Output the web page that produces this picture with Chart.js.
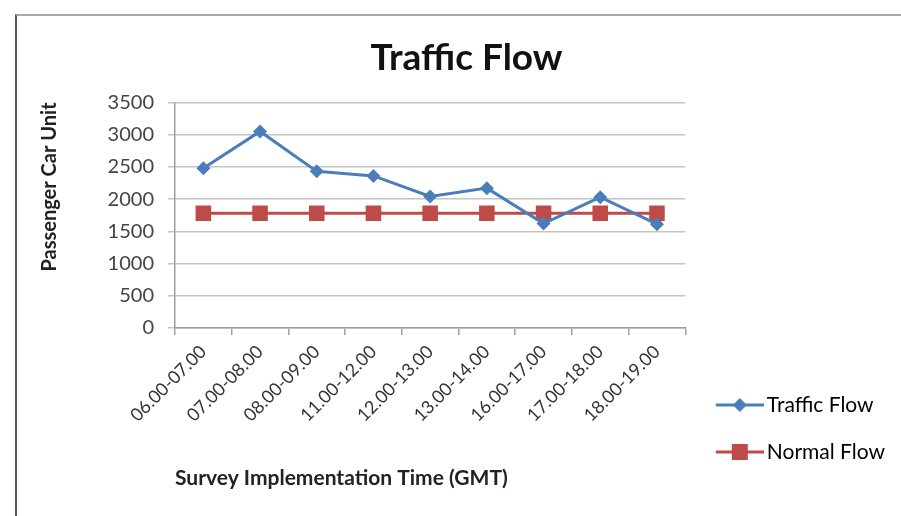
<!DOCTYPE html>
<html>
<head>
<meta charset="utf-8">
<script src="https://cdn.jsdelivr.net/npm/chart.js@4.4.1/dist/chart.umd.min.js"></script>
<style>
  html, body { margin: 0; padding: 0; background: #fff; overflow: hidden; }
  #wrap { position: relative; width: 901px; height: 516px; }
  #frame {
    position: absolute; left: 15px; top: 14px; width: 1000px; height: 600px;
    border-top: 2px solid #a8a8a8; border-left: 2px solid #5a5a5a;
  }
  #flow { position: absolute; left: 0; top: 0; }
</style>
</head>
<body>
<div id="wrap">
  <div id="frame"></div>
  <canvas id="flow" width="901" height="516"></canvas>
</div>
<script>
(function () {
    "use strict";

    var timeSlots = ["06.00-07.00", "07.00-08.00", "08.00-09.00", "11.00-12.00", "12.00-13.00",
                     "13.00-14.00", "16.00-17.00", "17.00-18.00", "18.00-19.00"];
    var trafficFlow = [2480, 3050, 2430, 2360, 2040, 2170, 1620, 2030, 1610];
    var normalFlow = [1780, 1780, 1780, 1780, 1780, 1780, 1780, 1780, 1780];
    var yTicks = [0, 500, 1000, 1500, 2000, 2500, 3000, 3500];

    var blue = "#4a7ebb";
    var red = "#be4b48";
    var font = "Lato, 'Open Sans', sans-serif";

    // line + marker picture for the legend (transparent strip on the left)
    function legendMark(color, shape) {
        var c = document.createElement("canvas");
        c.width = 60; c.height = 18;
        var g = c.getContext("2d");
        g.strokeStyle = color; g.lineWidth = 3;
        g.beginPath(); g.moveTo(12, 9); g.lineTo(60, 9); g.stroke();
        g.fillStyle = color;
        g.beginPath();
        if (shape === "diamond") {
            g.moveTo(36, 2); g.lineTo(43, 9); g.lineTo(36, 16); g.lineTo(29, 9);
        } else {
            g.rect(28, 1, 16, 16);
        }
        g.closePath(); g.fill();
        return c;
    }

    var ctx = document.getElementById("flow").getContext("2d");
    var myChart = new Chart(ctx, {
        type: "line",
        data: {
            labels: timeSlots,
            datasets: [{
                    label: "Traffic Flow",
                    data: trafficFlow,
                    borderColor: blue,
                    backgroundColor: blue,
                    borderWidth: 3,
                    tension: 0,
                    pointStyle: "rectRot",
                    pointRadius: 7,
                    pointBorderWidth: 0,
                    pointBackgroundColor: blue,
                    legendImg: legendMark(blue, "diamond")
                },
                {
                    label: "Normal Flow",
                    data: normalFlow,
                    borderColor: red,
                    backgroundColor: red,
                    borderWidth: 3,
                    tension: 0,
                    pointStyle: "rect",
                    pointRadius: 11,
                    pointBorderWidth: 0,
                    pointBackgroundColor: red,
                    legendImg: legendMark(red, "square")
                }
            ]
        },
        options: {
            responsive: false,
            animation: false,
            layout: { padding: { left: 38, right: 6, top: 0, bottom: 27.5 } },
            plugins: {
                title: {
                    display: true,
                    text: "Traffic Flow",
                    color: "#111",
                    font: { family: font, size: 37, weight: "bold" },
                    padding: { top: 36, bottom: 22 }
                },
                legend: {
                    position: "right",
                    align: "end",
                    labels: {
                        usePointStyle: true,
                        pointStyleWidth: 45,
                        padding: 26,
                        color: "#333",
                        font: { family: font, size: 21 },
                        generateLabels: function (chart) {
                            return chart.data.datasets.map(function (ds, i) {
                                return {
                                    text: ds.label,
                                    pointStyle: ds.legendImg,
                                    fillStyle: ds.borderColor,
                                    strokeStyle: ds.borderColor,
                                    lineWidth: 0,
                                    hidden: false,
                                    datasetIndex: i
                                };
                            });
                        }
                    }
                },
                tooltip: { enabled: false }
            },
            scales: {
                x: {
                    offset: true,
                    grid: { offset: true, drawOnChartArea: false, drawTicks: true, tickLength: 7, color: "#a0a0a0", lineWidth: 1.5 },
                    border: { display: true, color: "#a0a0a0", width: 1.5 },
                    ticks: {
                        minRotation: 45, maxRotation: 45, padding: 6,
                        color: "#333",
                        font: { family: font, size: 18 }
                    },
                    title: {
                        display: true,
                        text: "Survey Implementation Time (GMT)",
                        align: "start",
                        color: "#222",
                        font: { family: font, size: 21, weight: "bold" },
                        padding: { top: 0, bottom: -2 }
                    },
                    afterFit: function (scale) { scale.height = 160.5; }
                },
                y: {
                    min: 0,
                    max: 3500,
                    afterBuildTicks: function (scale) {
                        scale.ticks = yTicks.map(function (v) { return { value: v }; });
                    },
                    grid: { color: "#c4c4c4", lineWidth: 1.5, tickLength: 7 },
                    border: { display: true, color: "#a0a0a0", width: 1.5 },
                    ticks: {
                        padding: 14,
                        color: "#444",
                        font: { family: font, size: 20 },
                        callback: function (v) { return String(v); }
                    },
                    title: {
                        display: true,
                        text: "Passenger Car Unit",
                        align: "end",
                        color: "#222",
                        font: { family: font, size: 20, weight: "bold" },
                        padding: { top: 0, bottom: 0 }
                    },
                    afterFit: function (scale) { scale.width = 137; }
                }
            }
        }
    });
})();
</script>
</body>
</html>
